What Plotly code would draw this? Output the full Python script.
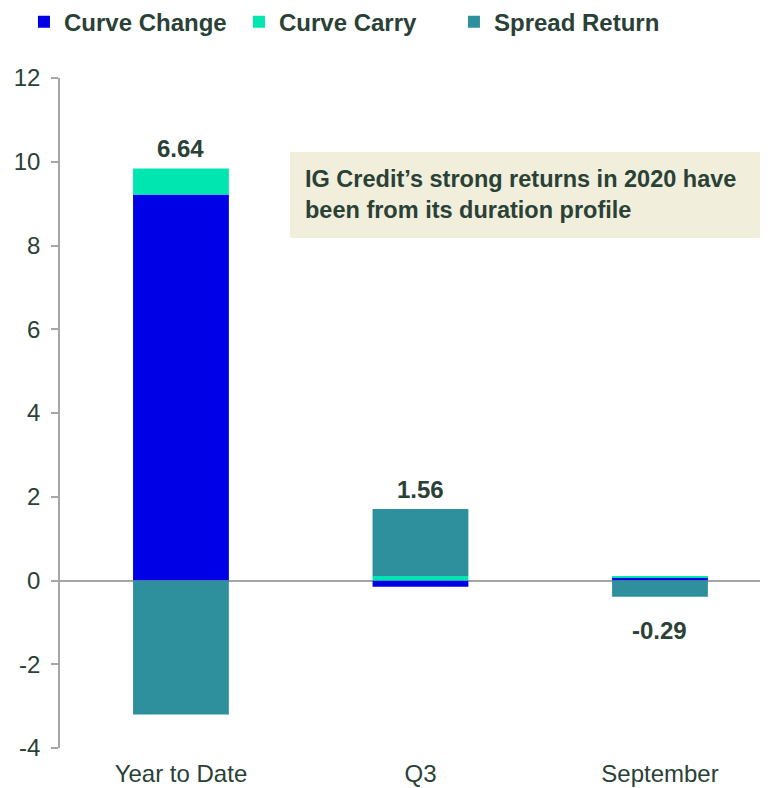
import plotly.graph_objects as go

categories = ["Year to Date", "Q3", "September"]
curve_change = [9.22, -0.15, 0.07]
curve_carry = [0.62, 0.11, 0.03]
spread_return = [-3.20, 1.60, -0.39]
totals = ["6.64", "1.56", "-0.29"]
y_ticks = [-4, -2, 0, 2, 4, 6, 8, 10, 12]
y_tick_text = ["-4", "-2", "0", "2", "4", "6", "8", "10", "12"]

TXT = "#2A4136"
FONT = "Liberation Sans, Arial, sans-serif"

fig = go.Figure()
series = [
    ("Curve Change", curve_change, "#0000E6"),
    ("Curve Carry", curve_carry, "#00E6B0"),
    ("Spread Return", spread_return, "#2E909C"),
]
for name, vals, col in series:
    fig.add_trace(go.Bar(x=categories, y=vals, name=name,
                         marker=dict(color=col, line=dict(width=0)),
                         hoverinfo="x+y+name"))

# total labels positioned at the end of the stack in the direction of the total
for i, cat in enumerate(categories):
    vals = [curve_change[i], curve_carry[i], spread_return[i]]
    pos = sum(v for v in vals if v > 0)
    neg = sum(v for v in vals if v < 0)
    tot = float(totals[i])
    if tot >= 0:
        fig.add_annotation(x=cat, y=pos, text="<b>%s</b>" % totals[i], showarrow=False,
                           yanchor="bottom", yshift=4, font=dict(size=24, color=TXT, family=FONT))
    else:
        fig.add_annotation(x=cat, y=neg, text="<b>%s</b>" % totals[i], showarrow=False,
                           yanchor="top", yshift=-18, font=dict(size=24, color=TXT, family=FONT))

# callout box
fig.add_shape(type="rect", xref="paper", yref="paper", x0=0.325, x1=1.0, y0=0.7612, y1=0.8896,
              fillcolor="#F1EEDC", line=dict(width=0), layer="below")
fig.add_annotation(xref="paper", yref="paper", x=0.343, y=0.8254, xanchor="left", yanchor="middle",
                   align="left", showarrow=False,
                   text="<b>IG Credit’s strong returns in 2020 have<br>been from its duration profile</b>",
                   font=dict(size=23.5, color=TXT, family=FONT))

fig.update_layout(
    width=760, height=780,
    margin=dict(l=52, r=0, t=70, b=40, autoexpand=False),
    barmode="relative", bargap=0.6,
    plot_bgcolor="white", paper_bgcolor="white",
    font=dict(family=FONT, color=TXT, size=24),
    showlegend=True,
    legend=dict(orientation="h", xref="container", yref="container", x=0.021, y=0.982,
                xanchor="left", yanchor="middle", font=dict(size=24, color=TXT, family=FONT, weight="bold"),
                entrywidth=170, entrywidthmode="pixels", itemclick=False, traceorder="normal",
                tracegroupgap=0, itemwidth=30),
    xaxis=dict(range=[-0.505, 2.451], showline=False, ticks="", showgrid=False, zeroline=False,
               tickfont=dict(size=24, color=TXT), fixedrange=True, ticklabelstandoff=9,
               automargin=False),
    yaxis=dict(range=[-4, 12], tickvals=y_ticks, ticktext=y_tick_text, showgrid=False,
               zeroline=True, zerolinecolor="#A6A6A6",
               zerolinewidth=1.5, showline=True, linecolor="#A6A6A6", linewidth=1.5,
               ticks="outside", ticklen=7, tickcolor="#A6A6A6", tickwidth=1.5,
               tickfont=dict(size=24, color=TXT), ticklabelstandoff=6, automargin=False),
)

fig.write_html("out.html")
